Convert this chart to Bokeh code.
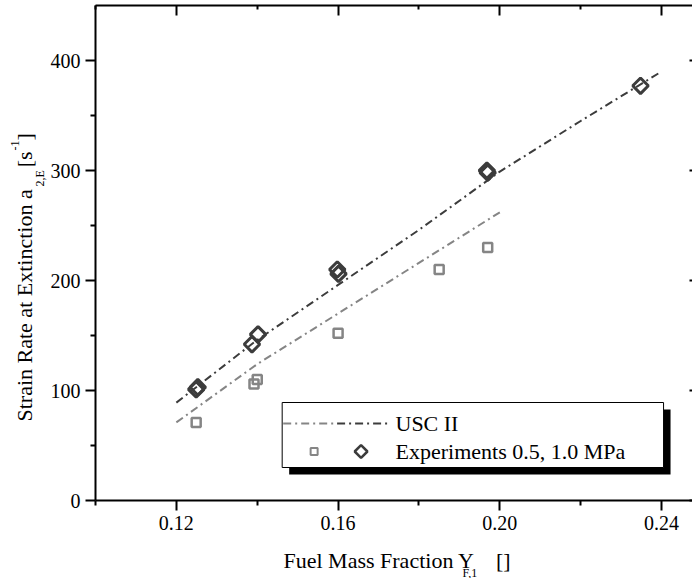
from bokeh.plotting import figure
from bokeh.models import (Range1d, FixedTicker, LinearAxis, Label, BoxAnnotation,
                          CustomJSTickFormatter)
from bokeh.embed import file_html
from bokeh.resources import INLINE

# ---- data -------------------------------------------------------------
# USC II predictions (two pressures)
usc_hi_x = [0.12, 0.14, 0.16, 0.18, 0.20, 0.22, 0.24]
usc_hi_y = [89, 146, 196, 246, 299, 345, 390]
usc_lo_x = [0.12, 0.14, 0.16, 0.18, 0.20]
usc_lo_y = [71, 124, 170, 216, 262]

# experiments (diamonds: higher pressure, squares: lower pressure)
exp_hi_x = [0.1249, 0.1253, 0.1387, 0.1402, 0.1598, 0.1601, 0.1968, 0.1970, 0.2348]
exp_hi_y = [101, 103, 142, 151, 210, 206, 300, 298, 377]
exp_lo_x = [0.1249, 0.1392, 0.1400, 0.1600, 0.1850, 0.1970]
exp_lo_y = [71, 106, 110, 152, 210, 230]

x_major = [0.12, 0.16, 0.20, 0.24]
x_minor = [0.10, 0.14, 0.18, 0.22]
y_major = [0, 100, 200, 300, 400]
y_minor = [50, 150, 250, 350]

legend_line_label = "USC II"
legend_exp_label = "Experiments 0.5, 1.0 MPa"

# ---- layout -----------------------------------------------------------
W, H = 692, 578
FL, FR, FT, FB = 94, 692, 5, 500
X0, X1 = 0.10, 0.10 + (FR - FL) / 4050.0
Y0, Y1 = 0.0, 450.0

def sx(px):
    return X0 + (px - FL) * (X1 - X0) / (FR - FL)

def sy(py):
    return Y0 + (FB - py) * (Y1 - Y0) / (FB - FT)

FONT = "Liberation Serif"
DARK = "#3c3c3c"
GRAY = "#858585"
DASH = "8 4 2 4"
EM, EN = "\u2003", "\u2002"

p = figure(width=W, height=H, output_backend="svg", toolbar_location=None,
           x_range=Range1d(X0, X1), y_range=Range1d(Y0, Y1),
           min_border_left=FL, min_border_right=W - FR,
           min_border_top=FT, min_border_bottom=H - FB)
p.outline_line_color = None
p.xgrid.visible = False
p.ygrid.visible = False
p.background_fill_color = "white"
p.border_fill_color = "white"

xt = FixedTicker(ticks=x_major, minor_ticks=x_minor)
yt = FixedTicker(ticks=y_major, minor_ticks=y_minor)
blank = CustomJSTickFormatter(code="return '';")

def style(ax, tick_in, tick_out, minor_in, minor_out, labels=True):
    ax.axis_line_width = 2
    ax.axis_line_color = "black"
    ax.major_tick_line_width = 2
    ax.minor_tick_line_width = 2
    ax.major_tick_in = tick_in
    ax.major_tick_out = tick_out
    ax.minor_tick_in = minor_in
    ax.minor_tick_out = minor_out
    ax.major_label_text_font = FONT
    ax.major_label_text_font_size = "20px"
    ax.major_label_text_color = "black"
    ax.major_label_standoff = 5
    if not labels:
        ax.formatter = blank
        ax.major_label_standoff = 0

xa = p.xaxis[0]
xa.ticker = xt
xa.formatter = CustomJSTickFormatter(code="return tick.toFixed(2);")
style(xa, 0, 10, 0, 5)
ya = p.yaxis[0]
ya.ticker = yt
style(ya, 0, 10, 0, 5)

top = LinearAxis(ticker=xt)
style(top, 10, 0, 4, 0, labels=False)
p.add_layout(top, "above")
right = LinearAxis(ticker=yt)
style(right, 3, 0, 0, 0, labels=False)
right.axis_line_color = None
p.add_layout(right, "right")

# ---- model curves and measurements -------------------------------------
p.line(usc_lo_x, usc_lo_y, line_color=GRAY, line_width=2, line_dash=DASH)
p.line(usc_hi_x, usc_hi_y, line_color=DARK, line_width=2, line_dash=DASH)
p.scatter(exp_lo_x, exp_lo_y, marker="square", size=9, fill_color=None,
          line_color=GRAY, line_width=2.5)
p.scatter(exp_hi_x, exp_hi_y, marker="square", angle=45, angle_units="deg",
          size=11, fill_color=None, line_color=DARK, line_width=3)

# ---- legend -----------------------------------------------------------
p.add_layout(BoxAnnotation(left=sx(288), right=sx(670), top=sy(409), bottom=sy(474),
                           fill_color="black", fill_alpha=1, line_color=None,
                           level="underlay"))
p.add_layout(BoxAnnotation(left=sx(281), right=sx(663), top=sy(402), bottom=sy(467),
                           fill_color="white", fill_alpha=1, line_color="black",
                           line_width=1, line_alpha=1, level="underlay"))
p.segment(x0=[sx(282)], y0=[sy(423)], x1=[sx(334)], y1=[sy(423)],
          line_color=GRAY, line_width=2, line_dash=DASH)
p.segment(x0=[sx(336)], y0=[sy(423)], x1=[sx(387)], y1=[sy(423)],
          line_color=DARK, line_width=2, line_dash=DASH)
p.scatter([sx(313)], [sy(451)], marker="square", size=7, fill_color=None,
          line_color=GRAY, line_width=2)
p.scatter([sx(360)], [sy(451)], marker="square", angle=45, angle_units="deg",
          size=9, fill_color=None, line_color=DARK, line_width=2.5)

def text(px, py, s, size, angle=0, place="center"):
    # px, py: canvas pixels from the top-left corner (middle of the text line)
    lab = Label(x=px, y=py, x_units="canvas", y_units="canvas",
                text=s, text_font=FONT,
                text_font_size=size, text_color="black",
                text_baseline="middle", text_align="left",
                angle=angle, angle_units="deg")
    if place == "center":
        p.add_layout(lab)
    else:
        p.add_layout(lab, place)

text(395, 423, legend_line_label, "22px")
text(395, 451, legend_exp_label, "22px")

# ---- axis titles (kept in the side panels so they are not clipped) -------
text(283, 560, "Fuel Mass Fraction Y" + EM + "[]", "22px", place="below")
text(462, 572, "F,1", "12px", place="below")

text(24, 421, "Strain Rate at Extinction a" + EM + "[s" + EN + "]", "22px",
     angle=90, place="left")
text(39, 186, "2,E", "12px", angle=90, place="left")
text(14, 150, "-1", "12px", angle=90, place="left")

open("out.html", "w").write(file_html(p, INLINE))
